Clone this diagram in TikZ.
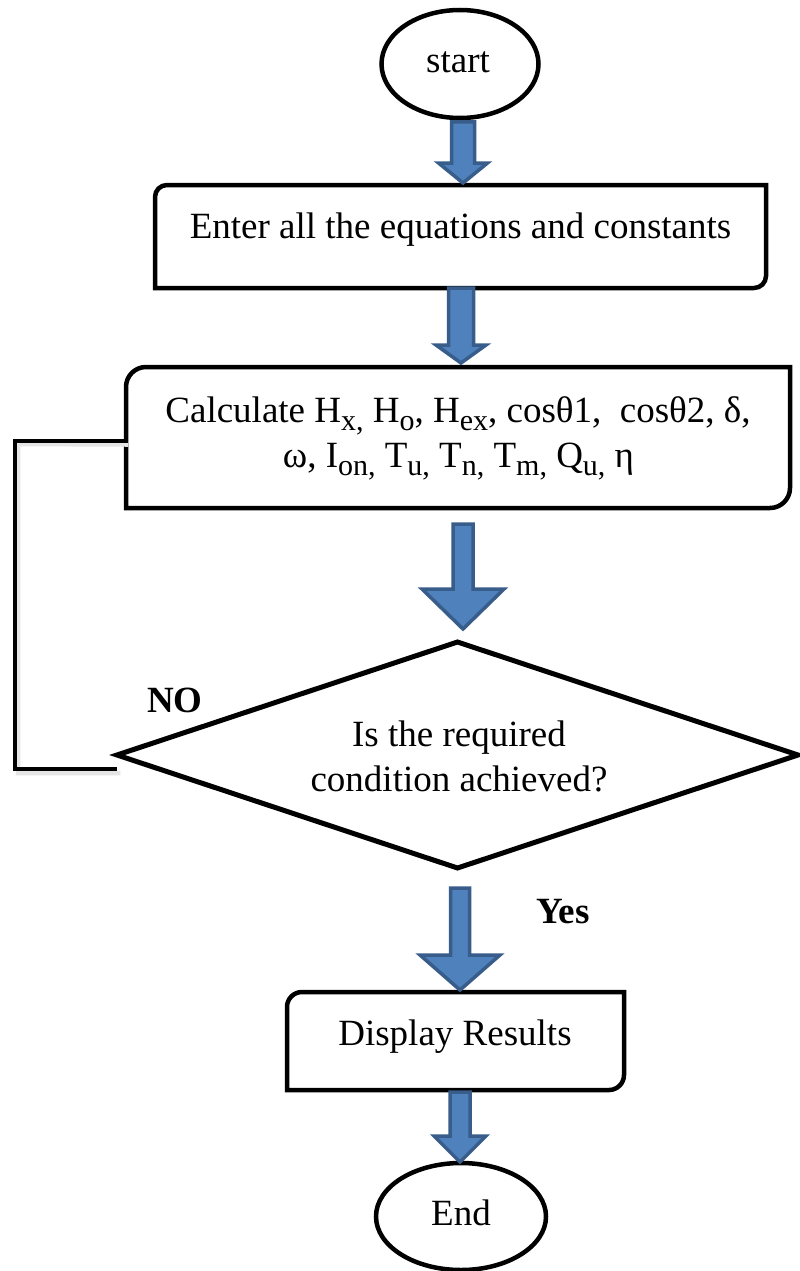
\documentclass[tikz,border=0pt]{standalone}
\usepackage{fontspec}
\setmainfont{Liberation Serif}
\usetikzlibrary{shapes.geometric,calc}
\definecolor{arrfill}{HTML}{4F81BD}
\definecolor{arrline}{HTML}{385D8A}
\newcommand\sbs[1]{\raisebox{-8pt}{\fontsize{30}{30}\selectfont #1}}
% #1 from, #2 to, #3 top gap, #4 tip gap, #5 shaft half, #6 head half, #7 head length, #8 x offset
\newcommand\barrow[8]{%
  \path[blockarrow] let \p1=#1, \p2=#2 in
    (\x1+#8pt-#5pt,\y1-#3pt) -- (\x1+#8pt+#5pt,\y1-#3pt)
    -- (\x1+#8pt+#5pt,\y2+#4pt+#7pt) -- (\x1+#8pt+#6pt,\y2+#4pt+#7pt)
    -- (\x1+#8pt,\y2+#4pt) -- (\x1+#8pt-#6pt,\y2+#4pt+#7pt)
    -- (\x1+#8pt-#5pt,\y2+#4pt+#7pt) -- cycle;}
% diagonal rounded box outline: #1 node name, #2 radius
\newcommand\dbox[2]{%
  \draw[boxline] let \p1=(#1.north west), \p2=(#1.south east) in
    (\x2,\y1) -- (\x1+#2pt,\y1) arc[start angle=90,end angle=180,radius=#2pt]
    -- (\x1,\y2) -- (\x2-#2pt,\y2) arc[start angle=270,end angle=360,radius=#2pt]
    -- cycle;}
\begin{document}
\begin{tikzpicture}[x=1pt,y=-1pt,
  blockarrow/.style={fill=arrfill,draw=arrline,line width=3.5pt,line join=miter},
  boxline/.style={line width=4.5pt,line join=miter},
  term/.style={ellipse,draw,line width=4.5pt,inner sep=0pt,outer sep=0pt},
  boxshape/.style={rectangle,draw=none,inner sep=0pt,outer sep=0pt},
  decision/.style={diamond,draw,line width=5pt,inner sep=0pt,outer sep=0pt},
  txt/.style={anchor=base,inner sep=0pt,font=\fontsize{37}{45}\selectfont},
  lbl/.style={anchor=base,inner sep=0pt,font=\fontsize{37}{45}\selectfont\bfseries},
  loopline/.style={line width=4.5pt,line cap=rect,line join=miter}]
\useasboundingbox (0,0) rectangle (800,1271);
\fill[white] (0,0) rectangle (800,1271);

% shapes
\node[term,minimum width=157pt,minimum height=108pt] (start) at (460,64) {};
\node[boxshape,minimum width=611pt,minimum height=103pt] (enter) at (460.5,236.5) {};
\node[boxshape,minimum width=664pt,minimum height=141pt] (calc) at (458,437.5) {};
\node[decision,minimum width=681pt,minimum height=226pt] (cond) at (457.5,755) {};
\node[boxshape,minimum width=337pt,minimum height=98pt] (disp) at (455.5,1041) {};
\node[term,minimum width=170pt,minimum height=107pt] (end) at (461,1216.5) {};

\dbox{enter}{12}
\dbox{calc}{20}
\dbox{disp}{15}

% texts
\node[txt] (tstart) at (458,73) {start};
\node[txt] (tenter) at (460.5,238) {Enter all the equations and constants};
\node[txt] (tcalc1) at (458,422) {Calculate H\sbs{x,} H\sbs{o}, H\sbs{ex}, cosθ1,\ \ cosθ2, δ,};
\node[txt] (tcalc2) at (458.5,467) {ω, I\sbs{on,} T\sbs{u,} T\sbs{n,} T\sbs{m,} Q\sbs{u,} η};
\node[txt] (tcond1) at (459,746) {Is the required};
\node[txt] (tcond2) at (459,791) {condition achieved?};
\node[txt] (tdisp) at (455,1045) {Display Results};
\node[txt] (tend) at (461,1225) {End};
\node[lbl] (no) at (175,712) {NO};
\node[lbl] (yes) at (563,923) {Yes};

% block arrows
\barrow{(start.south)}{(enter.north)}{4}{2}{11.5}{24.5}{20}{3}
\barrow{(enter.south)}{(calc.north)}{0}{4}{12.5}{25}{18}{0.5}
\barrow{(calc.south)}{(cond.north)}{16}{13}{10}{41}{40}{5}
\barrow{(cond.south)}{(disp.north)}{20}{2}{9.5}{40}{35}{2.5}
\barrow{(disp.south)}{(end.north)}{2}{1}{10}{26}{26}{4.5}

% NO loop (with light shadow)
\draw[loopline,draw=black!10] ([shift={(3pt,-4pt)}]cond.west) ++(-2pt,-14pt) -| (18,444) -- ([shift={(0pt,-7pt)}]calc.west);
\draw[loopline] ([shift={(-2pt,-14pt)}]cond.west) -| (15,441) -- ([yshift=-3.5pt]calc.west);
\end{tikzpicture}
\end{document}
